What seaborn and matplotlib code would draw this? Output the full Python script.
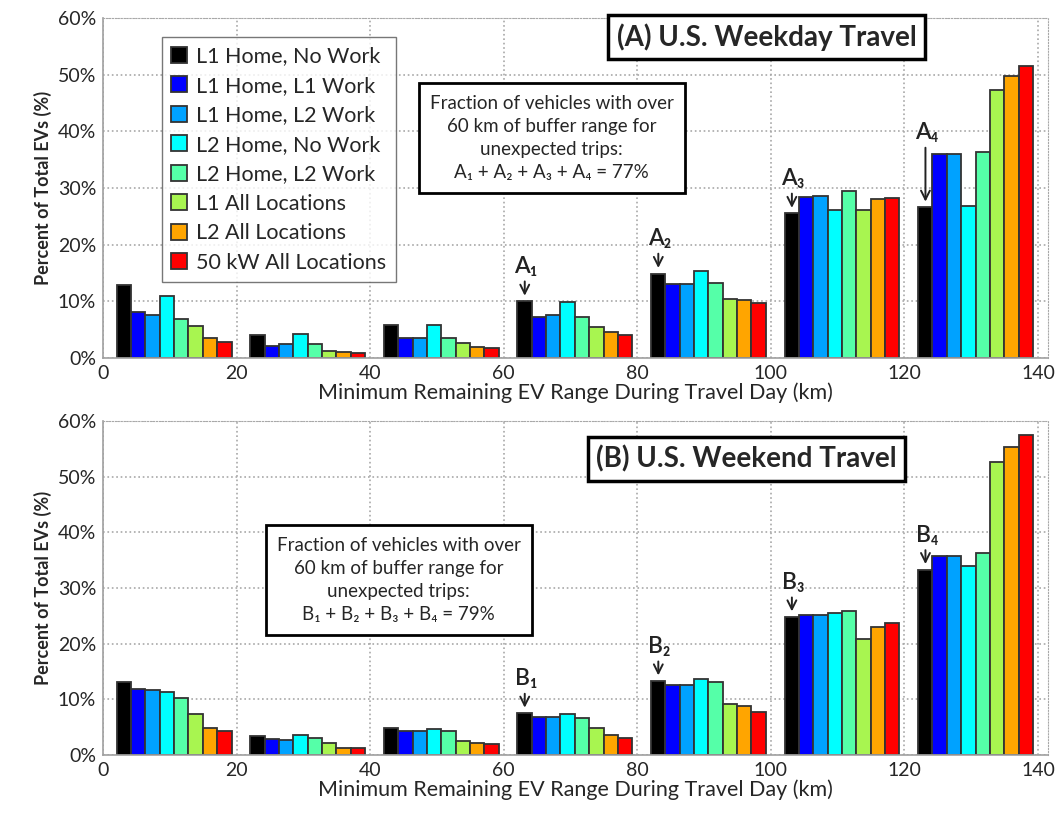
import numpy as np
import pandas as pd
import matplotlib
matplotlib.use("Agg")
import matplotlib.pyplot as plt
import seaborn as sns
from matplotlib.ticker import PercentFormatter

# charging scenarios (legend order) and their colours
scenarios = ["L1 Home, No Work", "L1 Home, L1 Work", "L1 Home, L2 Work",
             "L2 Home, No Work", "L2 Home, L2 Work", "L1 All Locations",
             "L2 All Locations", "50 kW All Locations"]
palette = ["#000000", "#0000FF", "#00A2FF", "#00FFFF",
           "#55FFA8", "#A8F550", "#FFA500", "#FF0000"]

# range bins (km), left edge of each 20 km bin
bin_starts = [0, 20, 40, 60, 80, 100, 120]

# percent of total EVs, one row per bin, one value per scenario
weekday = [
    [12.9, 8.2, 7.5, 10.9, 6.9, 5.6, 3.5, 2.8],
    [4.0, 2.2, 2.5, 4.2, 2.5, 1.3, 1.0, 0.9],
    [5.9, 3.6, 3.6, 5.8, 3.5, 2.7, 2.0, 1.7],
    [10.0, 7.3, 7.5, 9.9, 7.2, 5.5, 4.5, 4.1],
    [14.9, 13.1, 13.1, 15.3, 13.2, 10.4, 10.2, 9.7],
    [25.5, 28.4, 28.5, 26.1, 29.5, 26.1, 28.0, 28.3],
    [26.6, 36.0, 36.0, 26.8, 36.4, 47.3, 49.8, 51.6],
]
weekend = [
    [13.2, 11.8, 11.7, 11.3, 10.2, 7.4, 4.8, 4.3],
    [3.4, 2.8, 2.7, 3.6, 3.0, 2.2, 1.2, 1.3],
    [4.8, 4.4, 4.3, 4.7, 4.3, 2.5, 2.1, 1.9],
    [7.5, 6.9, 6.9, 7.4, 6.7, 4.8, 3.6, 3.0],
    [13.3, 12.6, 12.6, 13.7, 13.2, 9.2, 8.8, 7.8],
    [24.8, 25.1, 25.1, 25.5, 25.8, 20.9, 23.0, 23.8],
    [33.3, 35.8, 35.8, 33.9, 36.3, 52.6, 55.4, 57.5],
]

panel_titles = ["(A) U.S. Weekday Travel", "(B) U.S. Weekend Travel"]
box_texts = [
    "Fraction of vehicles with over\n60 km of buffer range for\nunexpected trips:\nA\u2081 + A\u2082 + A\u2083 + A\u2084 = 77%",
    "Fraction of vehicles with over\n60 km of buffer range for\nunexpected trips:\nB\u2081 + B\u2082 + B\u2083 + B\u2084 = 79%",
]
marker_labels = [["A\u2081", "A\u2082", "A\u2083", "A\u2084"],
                 ["B\u2081", "B\u2082", "B\u2083", "B\u2084"]]

sns.set_style("white")
plt.rcParams["font.family"] = ["Lato", "DejaVu Sans"]

fig = plt.figure(figsize=(10.56, 8.13), dpi=100)
ax_top = fig.add_axes([103 / 1056, 1 - 358 / 813, 945 / 1056, 340 / 813])
ax_bot = fig.add_axes([103 / 1056, 1 - 755 / 813, 945 / 1056, 334 / 813])

for k, (ax, values) in enumerate(zip([ax_top, ax_bot], [weekday, weekend])):
    rows = []
    for start, vals in zip(bin_starts, values):
        for name, v in zip(scenarios, vals):
            rows.append({"pos": start + 10.65, "scenario": name, "pct": v})
    df = pd.DataFrame(rows)

    sns.barplot(data=df, x="pos", y="pct", hue="scenario", hue_order=scenarios,
                palette=palette, saturation=1, native_scale=True, width=0.86,
                dodge=True, gap=0, edgecolor="#333333", linewidth=1.3,
                errorbar=None, legend=(k == 0), ax=ax)

    ax.set_xlim(0, 141.5)
    ax.set_ylim(0, 60)
    ax.set_xticks(range(0, 141, 20))
    ax.set_yticks(range(0, 61, 10))
    ax.yaxis.set_major_formatter(PercentFormatter(decimals=0))
    ax.tick_params(labelsize=14, length=0, pad=5)
    ax.grid(True, linestyle=":", color="#A8A8A8", linewidth=1.2)
    ax.set_axisbelow(True)
    for side in ["top", "right"]:
        ax.spines[side].set_linestyle(":")
        ax.spines[side].set_color("#A8A8A8")
    for side in ["left", "bottom"]:
        ax.spines[side].set_color("#A0A0A0")
        ax.spines[side].set_linewidth(1.2)
    ax.set_xlabel("Minimum Remaining EV Range During Travel Day (km)",
                  fontsize=15.5, labelpad=0)
    ax.set_ylabel("Percent of Total EVs (%)", fontsize=13, fontweight="bold",
                  labelpad=4)

    # arrows pointing at the black bars beyond 60 km
    for j, g in enumerate([3, 4, 5, 6]):
        top = values[g][0]
        x = bin_starts[g] + 3.15
        length = 11 if (k == 0 and g == 6) else 4
        ax.annotate("", xy=(x, top + 0.5), xytext=(x, top + length),
                    arrowprops=dict(arrowstyle="->", color="#222222", lw=1.4,
                                    mutation_scale=16))
        ax.text(x + 0.2, top + length + 0.3, marker_labels[k][j], fontsize=16.5,
                fontweight="semibold", ha="center", va="bottom",
                color="#222222")

ax_top.legend(loc="upper left", bbox_to_anchor=(0.062, 0.945), fontsize=15.5,
              frameon=True, edgecolor="#555555", fancybox=False,
              handlelength=0.75, handleheight=0.75, handletextpad=0.4,
              labelspacing=0.44, borderpad=0.45, borderaxespad=0, title=None)

ax_top.text(0.702, 0.944, panel_titles[0], transform=ax_top.transAxes,
            fontsize=20, fontweight="bold", ha="center", va="center",
            bbox=dict(boxstyle="square,pad=0.3", fc="white", ec="black", lw=2.5))
ax_bot.text(0.681, 0.886, panel_titles[1], transform=ax_bot.transAxes,
            fontsize=20, fontweight="bold", ha="center", va="center",
            bbox=dict(boxstyle="square,pad=0.3", fc="white", ec="black", lw=2.5))

ax_top.text(0.475, 0.647, box_texts[0], transform=ax_top.transAxes,
            fontsize=13.5, ha="center", va="center", linespacing=1.45,
            bbox=dict(boxstyle="square,pad=0.6", fc="white", ec="black", lw=2))
ax_bot.text(0.313, 0.524, box_texts[1], transform=ax_bot.transAxes,
            fontsize=13.5, ha="center", va="center", linespacing=1.45,
            bbox=dict(boxstyle="square,pad=0.6", fc="white", ec="black", lw=2))

fig.savefig("out.png", dpi=100)
